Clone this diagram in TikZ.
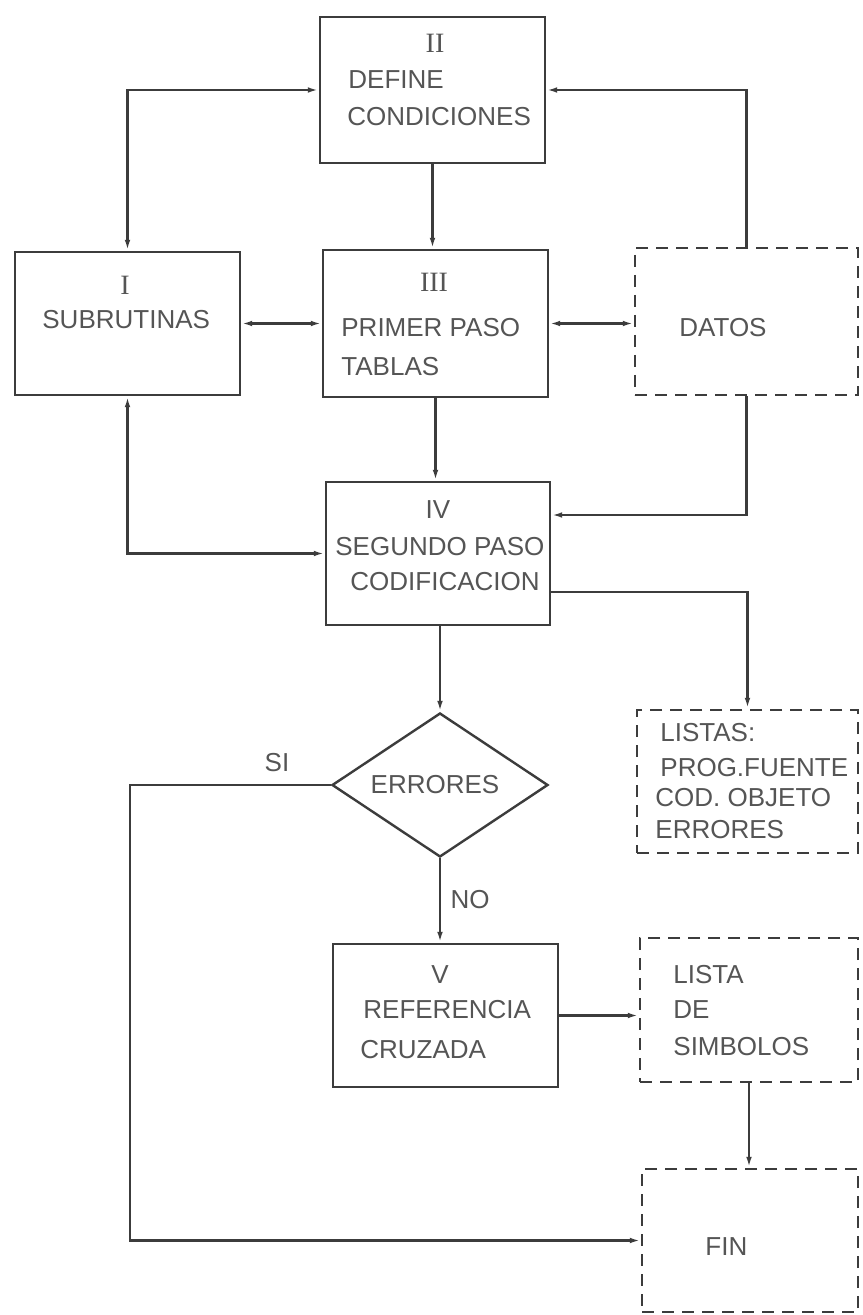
\documentclass[tikz,border=0pt]{standalone}
\usepackage{fontspec}
\setsansfont{Liberation Sans}
\newfontfamily\numfont{Liberation Serif}
\usetikzlibrary{arrows.meta,shapes.geometric,calc}
\definecolor{ink}{HTML}{3C3C3C}
\definecolor{txt}{HTML}{555555}
\begin{document}
\begin{tikzpicture}[x=0.5pt,y=-0.5pt,
  box/.style={draw=ink,line width=1.2pt,rectangle,inner sep=0pt},
  dbox/.style={box,dash pattern=on 6pt off 4pt},
  conn/.style={draw=ink,line width=1.1pt,arrows={-Latex[length=5.5pt,width=2.8pt]}},
  both/.style={conn,arrows={Latex[length=5.5pt,width=2.8pt]-Latex[length=5.5pt,width=2.8pt]}},
  lbl/.style={inner sep=0pt,text=txt,font=\sffamily\fontsize{13}{15}\selectfont},
  lw/.style={lbl,anchor=west},
  num/.style={inner sep=0pt,text=txt,font=\numfont\fontsize{14}{16}\selectfont}]
\useasboundingbox[fill=white] (0,0) rectangle (862,1315);

% boxes
\node[box,minimum width=112.5pt,minimum height=73pt] (II) at (432.5,90) {};
\node[box,minimum width=112.5pt,minimum height=71.5pt] (I) at (127.5,323.5) {};
\node[box,minimum width=112.5pt,minimum height=73.5pt] (III) at (435.5,323.5) {};
\node[dbox,minimum width=111.5pt,minimum height=73.5pt] (DATOS) at (746.5,321.5) {};
\node[box,minimum width=112pt,minimum height=71.5pt] (IV) at (438,553.5) {};
\node[draw=ink,line width=1.2pt,diamond,inner sep=0pt,minimum width=108pt,minimum height=72pt] (D) at (440,785) {};
\node[dbox,minimum width=110.5pt,minimum height=71.5pt] (LISTAS) at (747.5,781.5) {};
\node[box,minimum width=112.5pt,minimum height=71.5pt] (V) at (445.5,1015.5) {};
\node[dbox,minimum width=109pt,minimum height=72pt] (LS) at (749,1010) {};
\node[dbox,minimum width=108pt,minimum height=71.5pt] (FIN) at (750,1240.5) {};

% texts
\node[num] (t1) at (435,43) {II};
\node[lw] (t2) at (348,80) {DEFINE};
\node[lw] (t3) at (347,117) {CONDICIONES};
\node[num] (t4) at (125,285) {I};
\node[lw] (t5) at (42,320) {SUBRUTINAS};
\node[num] (t6) at (434,282) {III};
\node[lw] (t7) at (341,328) {PRIMER PASO};
\node[lw] (t8) at (341,367) {TABLAS};
\node[lw] (t9) at (679,328) {DATOS};
\node[lbl] (t10) at (438,510) {IV};
\node[lw] (t11) at (335,547) {SEGUNDO PASO};
\node[lw] (t12) at (350,582) {CODIFICACION};
\node[lbl] (t13) at (435,785) {ERRORES};
\node[lbl] (t14) at (277,763) {SI};
\node[lbl] (t15) at (470,900) {NO};
\node[lw] (t16) at (660,733) {LISTAS:};
\node[lw] (t17) at (660,768) {PROG.FUENTE};
\node[lw] (t18) at (655,798) {COD. OBJETO};
\node[lw] (t19) at (655,830) {ERRORES};
\node[lbl] (t20) at (440,975) {V};
\node[lw] (t21) at (363,1010) {REFERENCIA};
\node[lw] (t22) at (360,1050) {CRUZADA};
\node[lw] (t23) at (673,975) {LISTA};
\node[lw] (t24) at (673,1010) {DE};
\node[lw] (t25) at (673,1047) {SIMBOLOS};
\node[lw] (t26) at (705,1247) {FIN};

% connectors
\coordinate (c1) at (130,785);
\draw[both] (II.west) -| (I.north);
\draw[conn] (DATOS.north) |- (II.east);
\draw[conn] (II.south) -- (II.south |- III.north);
\draw[both] (I.east) -- (I.east -| III.west);
\draw[both] (III.east) -- (III.east -| DATOS.west);
\draw[both] (I.south) |- (IV.west);
\draw[conn] (III.south) -- (III.south |- IV.north);
\draw[conn] (DATOS.south) |- ([yshift=19.25pt]IV.east);
\draw[conn] ([yshift=-19.25pt]IV.east) -| (LISTAS.north);
\draw[conn] (D.north |- IV.south) -- (D.north);
\draw[conn] (D.west) -- (c1) |- (FIN.west);
\draw[conn] (D.south) -- (D.south |- V.north);
\draw[conn] (V.east) -- (V.east -| LS.west);
\draw[conn] (LS.south) -- (LS.south |- FIN.north);
\end{tikzpicture}
\end{document}
